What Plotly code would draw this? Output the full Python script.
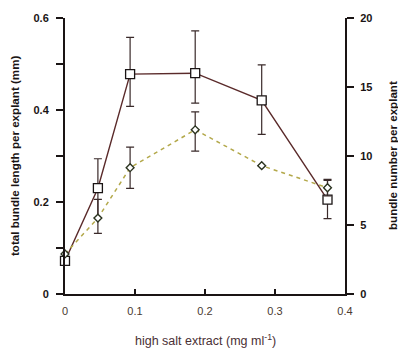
import plotly.graph_objects as go

# concentration of high salt extract (mg/ml)
conc = [0.0, 0.047, 0.093, 0.186, 0.281, 0.375]

# total bundle length per explant (mm) - squares, left axis
length = [0.072, 0.23, 0.478, 0.48, 0.421, 0.205]
length_err_plus = [0.0, 0.064, 0.08, 0.092, 0.077, 0.042]
length_err_minus = [0.0, 0.064, 0.07, 0.065, 0.074, 0.041]

# bundle number per explant - diamonds, right axis
number = [2.9, 5.5, 9.15, 11.9, 9.3, 7.7]
number_err_plus = [0.0, 1.35, 1.5, 1.3, 0.0, 0.6]
number_err_minus = [0.0, 1.1, 1.5, 1.55, 0.0, 0.6]

left_ticks = [0, 0.2, 0.4, 0.6]
left_ticktext = ["0", "0.2", "0.4", "0.6"]
right_ticks = [0, 5, 10, 15, 20]
x_ticks = [0, 0.1, 0.2, 0.3, 0.4]
x_ticktext = ["0", "0.1", "0.2", "0.3", "0.4"]

AXIS = "#1a1414"
FONT = "Liberation Sans, Arial, sans-serif"

fig = go.Figure()

fig.add_trace(go.Scatter(
    x=conc, y=number, yaxis="y2", mode="lines+markers",
    line=dict(color="#b3a84a", width=1.5, dash="4px,4px"),
    marker=dict(symbol="diamond", size=6, color="white",
                line=dict(color="#2b3320", width=1.4)),
    error_y=dict(type="data", symmetric=False, array=number_err_plus,
                 arrayminus=number_err_minus, color="#3a2a2a",
                 thickness=1.2, width=4),
    cliponaxis=False, showlegend=False,
))

fig.add_trace(go.Scatter(
    x=conc, y=length, mode="lines+markers",
    line=dict(color="#5a2a2a", width=1.4),
    marker=dict(symbol="square", size=9, color="white",
                line=dict(color="#1a1414", width=1.3)),
    error_y=dict(type="data", symmetric=False, array=length_err_plus,
                 arrayminus=length_err_minus, color="#3a2a2a",
                 thickness=1.2, width=4),
    cliponaxis=False, showlegend=False,
))

fig.update_layout(
    width=398, height=348,
    margin=dict(l=65, r=53, t=12, b=54),
    paper_bgcolor="white", plot_bgcolor="white",
    font=dict(family=FONT, color=AXIS),
    xaxis=dict(
        range=[0, 0.4], tickvals=x_ticks, ticktext=x_ticktext,
        ticks="inside", ticklen=5, tickwidth=1.5, tickcolor=AXIS,
        showline=True, linecolor=AXIS, linewidth=2, showgrid=False, zeroline=False,
        tickfont=dict(size=11, color="#4a3a30"), ticklabelstandoff=6,
    ),
    yaxis=dict(
        range=[0, 0.6], tickvals=left_ticks, ticktext=left_ticktext,
        ticks="outside", ticklen=7, tickwidth=1.5, tickcolor=AXIS,
        minor=dict(dtick=0.1, tick0=0, ticks="outside", ticklen=7,
                   tickwidth=1.5, tickcolor=AXIS, showgrid=False),
        showline=True, linecolor=AXIS, linewidth=2, showgrid=False, zeroline=False,
        tickfont=dict(size=11, color=AXIS, weight="bold"), ticklabelstandoff=5,
    ),
    yaxis2=dict(
        range=[0, 20], tickvals=right_ticks, overlaying="y", side="right",
        ticks="outside", ticklen=7, tickwidth=1.5, tickcolor=AXIS,
        showline=True, linecolor=AXIS, linewidth=2, showgrid=False, zeroline=False,
        tickfont=dict(size=11, color=AXIS, weight="bold"), ticklabelstandoff=4,
    ),
    annotations=[
        dict(text="total bundle length per explant (mm)", textangle=-90,
             xref="paper", yref="paper", x=0, y=0.5, xshift=-51,
             xanchor="center", yanchor="middle", showarrow=False,
             font=dict(size=11.6, weight="bold", color=AXIS)),
        dict(text="bundle number per explant", textangle=-90,
             xref="paper", yref="paper", x=1, y=0.5, xshift=47,
             xanchor="center", yanchor="middle", showarrow=False,
             font=dict(size=11.6, weight="bold", color=AXIS)),
        dict(text="high salt extract (mg ml<sup>-1</sup>)",
             xref="paper", yref="paper", x=0.5, y=0, yshift=-46,
             xanchor="center", yanchor="middle", showarrow=False,
             font=dict(size=12.5, color="#4a3035")),
    ],
)

fig.write_html("out.html")
